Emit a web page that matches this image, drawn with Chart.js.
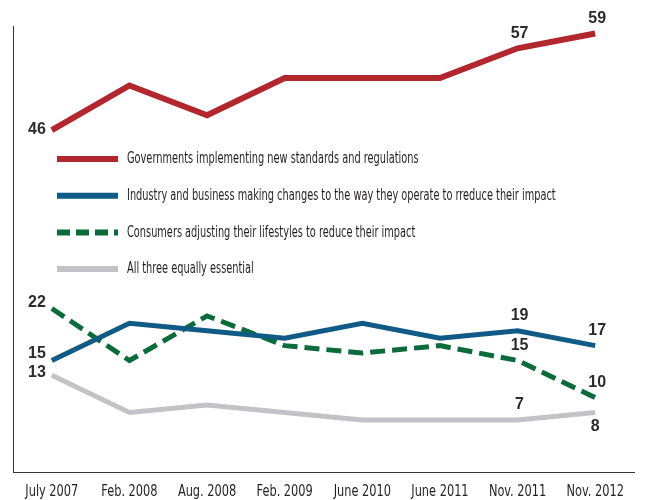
<!doctype html>
<html lang="en">

<head>
  <meta charset="utf-8">
  <title>Who should lead on climate change</title>
  <script src="https://cdn.jsdelivr.net/npm/chart.js"></script>
  <style>
    body { margin: 0; background: #fff; }
  </style>
</head>

<body>
  <canvas id="leadChart" width="645" height="500"></canvas>

  <script>
    // survey waves
    const surveyDates = ["July 2007", "Feb. 2008", "Aug. 2008", "Feb. 2009", "June 2010", "June 2011", "Nov. 2011", "Nov. 2012"];

    // percent of respondents per answer
    const governments = [46, 52, 48, 53, 53, 53, 57, 59];
    const industry = [15, 20, 19, 18, 20, 18, 19, 17];
    const consumers = [22, 15, 21, 17, 16, 17, 15, 10];
    const allThree = [13, 8, 9, 8, 7, 7, 7, 8];

    const seriesNames = [
      "Governments implementing new standards and regulations",
      "Industry and business making changes to the way they operate to rreduce their impact",
      "Consumers adjusting their lifestyles to reduce their impact",
      "All three equally essential"
    ];

    const narrowFont = "'DejaVu Sans Condensed', 'DejaVu Sans', sans-serif";
    const labelFont = "bold 16px 'Liberation Sans', Arial, sans-serif";

    // which points get a value written next to them: [index, placement, dy]
    const valueLabels = [
      [[0, "left", 0], [6, "above", 0], [7, "above", 0]],
      [[0, "left", -7], [6, "above", 0], [7, "above", 0]],
      [[0, "left", -6], [6, "above", 0], [7, "above", 0]],
      [[0, "left", -3], [6, "above", 0], [7, "below", 0]]
    ];

    // text squeezed sideways, to get a condensed face
    function narrowText(ctx, text, x, y, align, sx) {
      ctx.save();
      ctx.translate(x, y);
      ctx.scale(sx, 1);
      ctx.textAlign = align;
      ctx.fillText(text, 0, 0);
      ctx.restore();
    }

    // value numbers next to selected points
    const valueLabelPlugin = {
      id: "valueLabels",
      afterDatasetsDraw(chart) {
        const ctx = chart.ctx;
        ctx.save();
        ctx.font = labelFont;
        ctx.fillStyle = "#2b2b2b";
        ctx.textBaseline = "middle";
        chart.data.datasets.forEach((ds, i) => {
          const meta = chart.getDatasetMeta(i);
          valueLabels[i].forEach(([idx, where, dy]) => {
            const pt = meta.data[idx];
            const text = String(ds.data[idx]);
            if (where === "left") {
              ctx.textAlign = "right";
              ctx.fillText(text, pt.x - 6, pt.y + dy);
            } else if (where === "above") {
              ctx.textAlign = "center";
              ctx.fillText(text, pt.x + 2, pt.y - 15 + dy);
            } else {
              ctx.textAlign = "center";
              ctx.fillText(text, pt.x, pt.y + 14 + dy);
            }
          });
        });
        ctx.restore();
      }
    };

    // legend list inside the plot plus the date labels under the x axis
    const insideLegendPlugin = {
      id: "insideLegend",
      afterDraw(chart) {
        const ctx = chart.ctx;
        ctx.save();
        ctx.font = "16px " + narrowFont;
        ctx.textBaseline = "middle";
        chart.data.datasets.forEach((ds, i) => {
          const y = 159 + i * 36.7;
          ctx.beginPath();
          ctx.strokeStyle = ds.borderColor;
          ctx.lineWidth = 6;
          ctx.setLineDash(ds.borderDash ? [13, 6] : []);
          ctx.moveTo(57, y);
          ctx.lineTo(118, y);
          ctx.stroke();
          ctx.setLineDash([]);
          ctx.fillStyle = "#231f20";
          narrowText(ctx, ds.label, 127, y, "left", 0.68);
        });

        const xScale = chart.scales.x;
        ctx.font = "16px " + narrowFont;
        ctx.fillStyle = "#231f20";
        chart.data.labels.forEach((lab, i) => {
          narrowText(ctx, lab, xScale.getPixelForValue(i), 492, "center", 0.79);
        });
        ctx.restore();
      }
    };

    const data = {
      labels: surveyDates,
      datasets: [{
        label: seriesNames[0],
        data: governments,
        borderColor: "#b2262e",
        borderWidth: 6
      }, {
        label: seriesNames[1],
        data: industry,
        borderColor: "#0f5b86",
        borderWidth: 5
      }, {
        label: seriesNames[2],
        data: consumers,
        borderColor: "#0b6b3a",
        borderWidth: 5,
        borderDash: [15, 7]
      }, {
        label: seriesNames[3],
        data: allThree,
        borderColor: "#c3c3c7",
        borderWidth: 5
      }]
    };

    const config = {
      type: "line",
      data,
      options: {
        responsive: false,
        animation: false,
        layout: { padding: { left: 13, top: 26, right: 11, bottom: 0 } },
        elements: {
          point: { radius: 0 },
          line: { tension: 0, borderJoinStyle: "miter", borderCapStyle: "butt" }
        },
        plugins: {
          legend: { display: false },
          tooltip: { enabled: false }
        },
        scales: {
          x: {
            offset: true,
            grid: { display: false, drawTicks: false },
            border: { display: true, color: "#333", width: 1 },
            ticks: { display: false },
            afterFit(scale) { scale.height = 28; }
          },
          y: {
            min: 0,
            max: 60,
            grid: { display: false, drawTicks: false },
            border: { display: true, color: "#333", width: 1 },
            ticks: { display: false },
            afterFit(scale) { scale.width = 0; }
          }
        }
      },
      plugins: [valueLabelPlugin, insideLegendPlugin]
    };

    new Chart(document.getElementById("leadChart"), config);
  </script>
</body>

</html>
